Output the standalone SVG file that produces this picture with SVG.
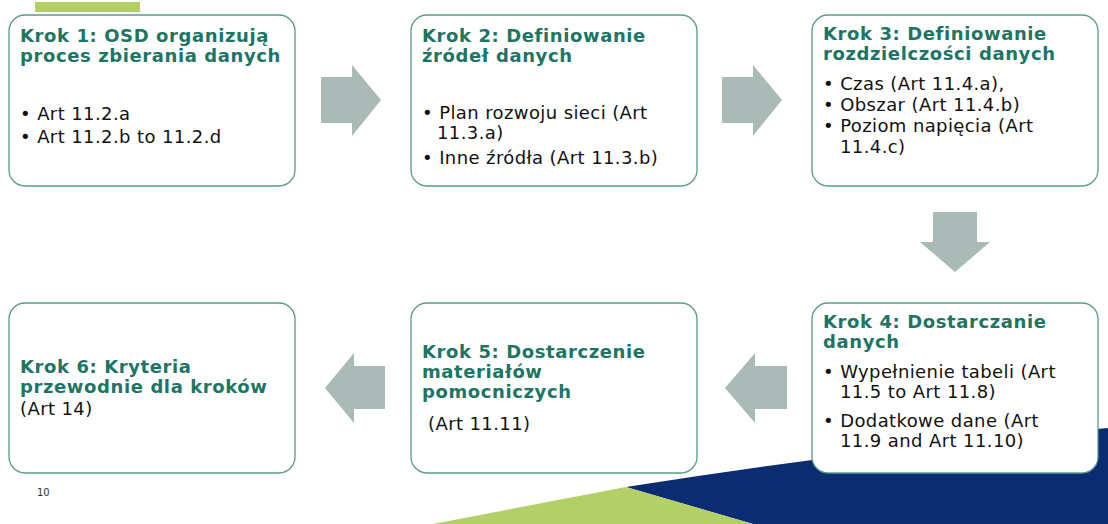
<svg xmlns="http://www.w3.org/2000/svg" width="1108" height="524" viewBox="0 0 1108 524">
<style>
.box{fill:#fff;stroke:#5a9a8b;stroke-width:1.3}
.t{font-family:"DejaVu Sans",Verdana,sans-serif;font-size:18px;letter-spacing:0.6px;font-weight:bold;fill:#1d7563}
.b{font-family:"DejaVu Sans",Verdana,sans-serif;font-size:18px;letter-spacing:0.4px;fill:#111}
.arr{fill:#aabab6}
</style>
<rect width="1108" height="524" fill="#fff"/>
<g id="background">
<path d="M626,487 Q870,448 1108,428 L1108,524 L753,524 Z" fill="#0b2c70"/>
<path d="M433,524 L626,487 L753,524 Z" fill="#b3cf67"/>
<rect x="35" y="2" width="105" height="10" fill="#b3cf67"/>
<text x="37" y="496" style="font-family:'DejaVu Sans',Verdana,sans-serif;font-size:10px;fill:#333">10</text>
</g>
<g id="connectors">
<polygon class="arr" points="321,77 352,77 352,65 381,100 352,136 352,123 321,123"/>
<polygon class="arr" points="722,77 753,77 753,65 782,100 753,136 753,123 722,123"/>
<polygon class="arr" points="933,212 977,212 977,242 990,242 955,272 920,242 933,242"/>
<polygon class="arr" points="787,366 755,366 755,353 725,388 755,423 755,409 787,409"/>
<polygon class="arr" points="385,366 354,366 354,353 325,388 354,423 354,409 385,409"/>
</g>
<g id="step1">
<rect class="box" x="9" y="15" width="286" height="171" rx="16"/>
<text class="t" x="20" y="42">Krok 1: OSD organizują</text>
<text class="t" x="20" y="62">proces zbierania danych</text>
<text class="b" x="20" y="120">• Art 11.2.a</text>
<text class="b" x="20" y="143">• Art 11.2.b to 11.2.d</text>
</g>
<g id="step2">
<rect class="box" x="411" y="15" width="286" height="171" rx="16"/>
<text class="t" x="422" y="42">Krok 2: Definiowanie</text>
<text class="t" x="422" y="62">źródeł danych</text>
<text class="b" x="422" y="119">• Plan rozwoju sieci (Art</text>
<text class="b" x="437" y="139">11.3.a)</text>
<text class="b" x="422" y="164">• Inne źródła (Art 11.3.b)</text>
</g>
<g id="step3">
<rect class="box" x="812" y="15" width="286" height="171" rx="16"/>
<text class="t" x="823" y="40">Krok 3: Definiowanie</text>
<text class="t" x="823" y="60">rozdzielczości danych</text>
<text class="b" x="823" y="90">• Czas (Art 11.4.a),</text>
<text class="b" x="823" y="111">• Obszar (Art 11.4.b)</text>
<text class="b" x="823" y="132">• Poziom napięcia (Art</text>
<text class="b" x="840" y="153">11.4.c)</text>
</g>
<g id="step4">
<rect class="box" x="812" y="303" width="286" height="170" rx="16"/>
<text class="t" x="823" y="328">Krok 4: Dostarczanie</text>
<text class="t" x="823" y="348">danych</text>
<text class="b" x="823" y="378">• Wypełnienie tabeli (Art</text>
<text class="b" x="840" y="398">11.5 to Art 11.8)</text>
<text class="b" x="823" y="427">• Dodatkowe dane (Art</text>
<text class="b" x="840" y="447">11.9 and Art 11.10)</text>
</g>
<g id="step5">
<rect class="box" x="411" y="303" width="286" height="170" rx="16"/>
<text class="t" x="422" y="358">Krok 5: Dostarczenie</text>
<text class="t" x="422" y="378">materiałów</text>
<text class="t" x="422" y="398">pomocniczych</text>
<text class="b" x="428" y="430">(Art 11.11)</text>
</g>
<g id="step6">
<rect class="box" x="9" y="303" width="286" height="170" rx="16"/>
<text class="t" x="20" y="373">Krok 6: Kryteria</text>
<text class="t" x="20" y="393">przewodnie dla kroków</text>
<text class="b" x="20" y="415">(Art 14)</text>
</g>
</svg>
